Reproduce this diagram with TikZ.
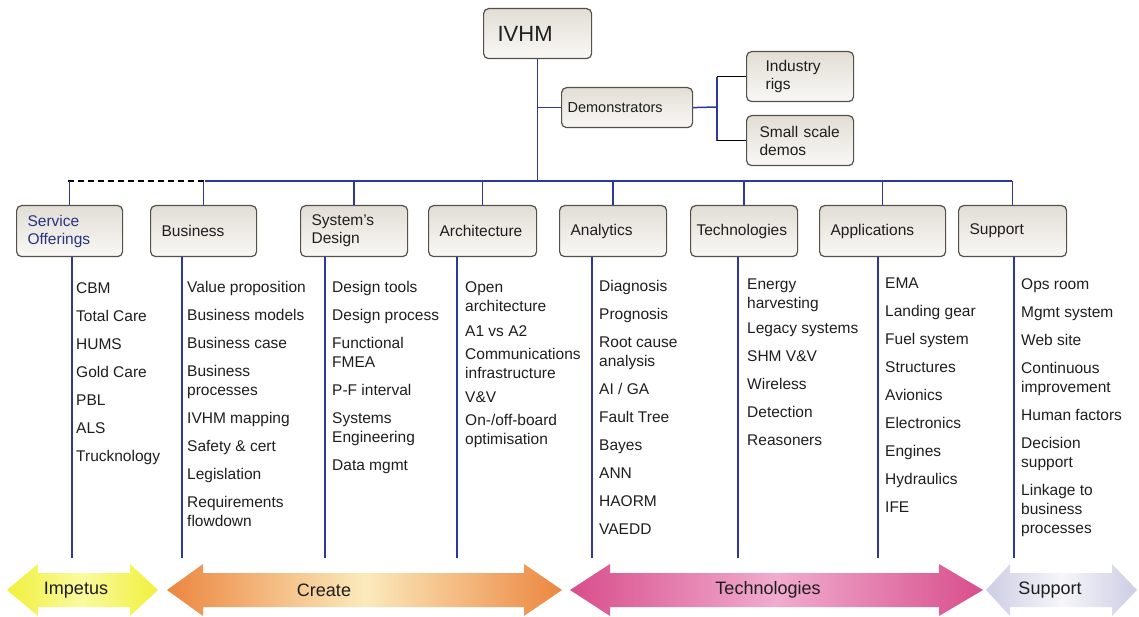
\documentclass[tikz,border=0pt]{standalone}
\usepackage{fontspec}
\setmainfont{Liberation Sans}
\definecolor{linkblue}{RGB}{45,55,160}
\definecolor{boxedge}{RGB}{85,80,74}
\definecolor{boxtop}{RGB}{226,222,214}
\definecolor{boxbot}{RGB}{249,248,245}
\definecolor{txt}{RGB}{30,30,30}
\definecolor{svcblue}{RGB}{40,50,125}
\definecolor{impA}{RGB}{240,240,60}
\definecolor{impB}{RGB}{250,250,160}
\definecolor{creA}{RGB}{236,134,64}
\definecolor{creB}{RGB}{251,234,188}
\definecolor{tecA}{RGB}{216,78,140}
\definecolor{tecB}{RGB}{240,172,206}
\definecolor{supA}{RGB}{205,205,228}
\definecolor{supB}{RGB}{246,246,251}
\tikzset{
  roundbox/.style={draw=boxedge, line width=1.2pt, rounded corners=5pt,
    top color=boxtop, bottom color=boxbot, anchor=north west, align=left,
    inner ysep=0pt, text=txt, font=\fontsize{15.5}{18}\selectfont},
  catbox/.style={roundbox, minimum height=51pt, inner xsep=11pt, text width=#1},
  itemlist/.style={anchor=north west, align=left, inner sep=0pt, text=txt,
    font=\fontsize{15.5}{19}\selectfont},
  link/.style={draw=linkblue, line width=1.5pt},
  arrowlabel/.style={text=txt, font=\fontsize{18}{20}\selectfont}
}
\begin{document}
\begin{tikzpicture}[x=1pt,y=-1pt]
\useasboundingbox (0,0) rectangle (1139,617);

\node[roundbox, font=\fontsize{22}{24}\selectfont, text width=80pt, inner xsep=14pt, minimum height=50pt] (ivhm) at (483,8) {IVHM};
\node[roundbox, font=\fontsize{14.5}{17}\selectfont, text width=119pt, inner xsep=6pt, minimum height=40pt] (demo) at (561,87) {Demonstrators};
\node[roundbox, text width=69pt, inner xsep=19pt, minimum height=50pt] (rigs) at (746,51) {Industry\\rigs};
\node[roundbox, text width=81pt, inner xsep=13pt, minimum height=50pt] (small) at (746,115) {Small scale\\demos};

\node[catbox=84pt, text=svcblue] (svc) at (16,205) {Service\\Offerings};
\node[catbox=84pt] (bus) at (150,205) {Business};
\node[catbox=85pt] (sysd) at (300,205) {System's\\Design};
\node[catbox=86pt] (arch) at (428,205) {Architecture};
\node[catbox=85pt] (anl) at (559,205) {Analytics};
\node[catbox=95pt, inner xsep=6pt] (tech) at (690,205) {Technologies};
\node[catbox=104pt] (appl) at (819,205) {Applications};
\node[catbox=86pt] (supp) at (958,205) {Support};

\coordinate (busl) at (68,181);
\coordinate (busm) at (205,181);
\coordinate (busr) at (1012,181);
\coordinate (brk) at (717,107);
\draw[line width=1.5pt, dash pattern=on 6pt off 4pt] (busl) -- (busm);
\draw[link] (busm) -- (busr);
\draw[link] (ivhm.south) -- (ivhm.south |- busm);
\draw[link] (ivhm.south |- demo.west) -- (demo.west);
\draw[link] (demo.east) -- (brk);
\draw[link] (brk |- rigs.west) -- (brk |- small.west);
\draw[line width=1.5pt] (brk |- rigs.west) -- (rigs.west);
\draw[line width=1.5pt] (brk |- small.west) -- (small.west);
\foreach \n in {svc,bus,sysd,arch,anl,tech,appl,supp}
  \draw[link] (\n.north |- busm) -- (\n.north);

\foreach \n/\x in {svc/72,bus/182,sysd/325,arch/457,anl/592,tech/738,appl/878,supp/1014}{
  \coordinate (end\n) at (\x,558);
  \draw[link] (\n.south -| end\n) -- (end\n);
}

\node[itemlist] (svclist) at (76,282) {CBM\\[9pt]Total Care\\[9pt]HUMS\\[9pt]Gold Care\\[9pt]PBL\\[9pt]ALS\\[9pt]Trucknology};
\node[itemlist] (buslist) at (187,281) {Value proposition\\[9pt]Business models\\[9pt]Business case\\[9pt]Business\\processes\\[9pt]IVHM mapping\\[9pt]Safety \& cert\\[9pt]Legislation\\[9pt]Requirements\\flowdown};
\node[itemlist] (sysdlist) at (332,281) {Design tools\\[9pt]Design process\\[9pt]Functional\\FMEA\\[9pt]P-F interval\\[9pt]Systems\\Engineering\\[9pt]Data mgmt};
\node[itemlist] (archlist) at (465,281) {Open\\architecture\\[6pt]A1 vs A2\\[4pt]Communications\\infrastructure\\[5pt]V\&V\\[4pt]On-/off-board\\optimisation};
\node[itemlist] (anllist) at (599,280) {Diagnosis\\[9pt]Prognosis\\[9pt]Root cause\\analysis\\[9pt]AI / GA\\[9pt]Fault Tree\\[9pt]Bayes\\[9pt]ANN\\[9pt]HAORM\\[9pt]VAEDD};
\node[itemlist] (techlist) at (747,279) {Energy\\harvesting\\[6pt]Legacy systems\\[9pt]SHM V\&V\\[9pt]Wireless\\[9pt]Detection\\[9pt]Reasoners};
\node[itemlist] (appllist) at (885,278) {EMA\\[9pt]Landing gear\\[9pt]Fuel system\\[9pt]Structures\\[9pt]Avionics\\[9pt]Electronics\\[9pt]Engines\\[9pt]Hydraulics\\[9pt]IFE};
\node[itemlist] (supplist) at (1021,278) {Ops room\\[9pt]Mgmt system\\[9pt]Web site\\[9pt]Continuous\\improvement\\[9pt]Human factors\\[9pt]Decision\\support\\[9pt]Linkage to\\business\\processes};

\path[left color=impA, right color=impA, middle color=impB] (7,590) -- (38,564) -- (38,573) -- (130,573) -- (130,564) -- (158,590) -- (130,616) -- (130,607) -- (38,607) -- (38,616) -- cycle;
\node[arrowlabel] (impetuslbl) at (76,590) {Impetus};
\path[left color=creA, right color=creA, middle color=creB] (167,590) -- (203,564) -- (203,573) -- (524,573) -- (524,564) -- (562,590) -- (524,616) -- (524,607) -- (203,607) -- (203,616) -- cycle;
\node[arrowlabel] (createlbl) at (324,590) {Create};
\path[left color=tecA, right color=tecA, middle color=tecB] (570,590) -- (610,564) -- (610,573) -- (939,573) -- (939,564) -- (983,590) -- (939,616) -- (939,607) -- (610,607) -- (610,616) -- cycle;
\node[arrowlabel] (techlbl) at (768,590) {Technologies};
\path[left color=supA, right color=supA, middle color=supB] (986,590) -- (1010,564) -- (1010,573) -- (1112,573) -- (1112,564) -- (1137,590) -- (1112,616) -- (1112,607) -- (1010,607) -- (1010,616) -- cycle;
\node[arrowlabel] (supplbl) at (1050,590) {Support};
\end{tikzpicture}
\end{document}
